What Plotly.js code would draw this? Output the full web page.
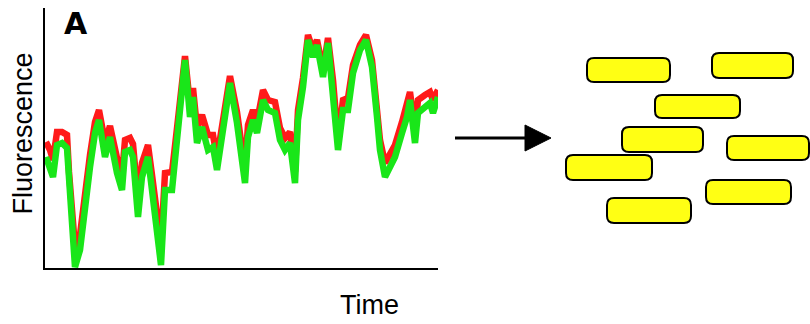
<!DOCTYPE html>
<html>
<head>
<meta charset="utf-8">
<script src="https://cdn.plot.ly/plotly-3.0.1.min.js"></script>
<style>
  html, body { margin: 0; padding: 0; background: #ffffff; }
  #chart { width: 810px; height: 324px; }
</style>
</head>
<body>
<div id="chart"></div>
<script>
// ---- data ----
const time = [1,5,8,12,17,22,24,27,30,35,
  39,42,45,50,54,60,65,72,77,80,
  85,88,93,97,103,107,112,116,120,127,
  132,137,140,145,148,152,157,163,168,172,
  178,185,192,197,200,203,208,212,218,223,
  230,235,240,245,250,253,258,263,268,272,
  278,283,288,293,298,303,308,315,321,327,
  332,335,340,345,350,357,362,365,370,373,
  380,385,388,393];

const greenSignal = [111,98,91,123,125,120,83,48,1,18,
  53,81,101,135,148,111,131,95,78,116,
  118,111,51,91,111,78,41,3,78,78,
  128,178,208,151,171,125,141,118,121,98,
  138,185,145,111,85,131,148,135,168,158,
  155,128,118,125,85,148,181,228,211,223,
  191,225,178,118,158,158,195,218,228,201,
  151,118,91,101,111,135,151,168,125,155,
  161,165,155,171];

const redSignal = [126,118,108,136,136,133,96,63,21,33,
  68,98,113,146,158,126,142,110,93,128,
  130,124,68,105,123,93,58,23,95,96,
  140,186,212,163,180,140,153,133,133,110,
  150,192,156,123,98,143,158,146,178,168,
  166,140,130,136,96,158,190,233,218,228,
  198,230,188,128,168,170,203,223,233,208,
  161,128,105,113,123,146,163,176,138,168,
  173,176,168,178];

// ---- geometry of the plot area (pixels) ----
const W = 810, H = 324;
const L = 45, R = 438, T = 8, B = 268;
const PW = R - L, PH = B - T;
const X = px => (px - L) / PW;   // pixel -> paper x
const Y = py => (B - py) / PH;   // pixel -> paper y

// cartoon of cells (decoration, pixel boxes: x0, y0, x1, y1)
const cells = [
  [587,58,670,82],[712,53,793,78],[655,95,740,118],[622,127,703,152],
  [727,136,809,160],[566,155,652,180],[706,180,791,204],[607,198,691,223]
];

function roundRect(b, r) {
  const [x0,y0,x1,y1] = b;
  const p = (x,y) => X(x).toFixed(5) + ',' + Y(y).toFixed(5);
  return 'M' + p(x0+r,y0) + ' L' + p(x1-r,y0) + ' Q' + p(x1,y0) + ' ' + p(x1,y0+r) +
         ' L' + p(x1,y1-r) + ' Q' + p(x1,y1) + ' ' + p(x1-r,y1) +
         ' L' + p(x0+r,y1) + ' Q' + p(x0,y1) + ' ' + p(x0,y1-r) +
         ' L' + p(x0,y0+r) + ' Q' + p(x0,y0) + ' ' + p(x0+r,y0) + ' Z';
}

const shapes = cells.map(b => ({
  type: 'path', xref: 'paper', yref: 'paper', path: roundRect(b, 7),
  fillcolor: '#ffff14', line: {color: '#000000', width: 2}
}));
// arrow shaft and head
shapes.push({type: 'line', xref: 'paper', yref: 'paper',
  x0: X(455), y0: Y(138), x1: X(528), y1: Y(138),
  line: {color: '#000000', width: 3}});
shapes.push({type: 'path', xref: 'paper', yref: 'paper',
  path: 'M' + X(525) + ',' + Y(125) + ' L' + X(551) + ',' + Y(138) + ' L' + X(525) + ',' + Y(151) + ' Z',
  fillcolor: '#000000', line: {color: '#000000', width: 1}});

const font = 'Liberation Sans, Arial, Helvetica, sans-serif';

const traces = [
  {x: time, y: redSignal, type: 'scatter', mode: 'lines', name: 'red',
   line: {color: '#ff1a1a', width: 6.5}, hoverinfo: 'skip'},
  {x: time, y: greenSignal, type: 'scatter', mode: 'lines', name: 'green',
   line: {color: '#19e619', width: 6.5}, hoverinfo: 'skip'}
];

const axisCommon = {showline: true, linecolor: '#000000', linewidth: 2,
  showgrid: false, zeroline: false, showticklabels: false, ticks: '', fixedrange: true};

const layout = {
  width: W, height: H,
  margin: {l: L, r: W - R, t: T, b: H - B, pad: 0},
  paper_bgcolor: '#ffffff', plot_bgcolor: '#ffffff',
  showlegend: false,
  xaxis: Object.assign({range: [0, 393]}, axisCommon),
  yaxis: Object.assign({range: [0, 260]}, axisCommon),
  shapes: shapes,
  annotations: [
    {text: '<b>A</b>', xref: 'paper', yref: 'paper', x: X(62), y: Y(4),
     xanchor: 'left', yanchor: 'top', showarrow: false,
     font: {family: 'DejaVu Sans, sans-serif', size: 30, color: '#000000'}},
    {text: 'Fluorescence', xref: 'paper', yref: 'paper', x: X(22.5), y: Y(134),
     xanchor: 'center', yanchor: 'middle', textangle: -90, showarrow: false,
     font: {family: font, size: 27, color: '#000000'}},
    {text: 'Time', xref: 'paper', yref: 'paper', x: X(369), y: Y(305),
     xanchor: 'center', yanchor: 'middle', showarrow: false,
     font: {family: font, size: 27, color: '#000000'}}
  ]
};

Plotly.newPlot('chart', traces, layout, {displayModeBar: false, staticPlot: true});
</script>
</body>
</html>
